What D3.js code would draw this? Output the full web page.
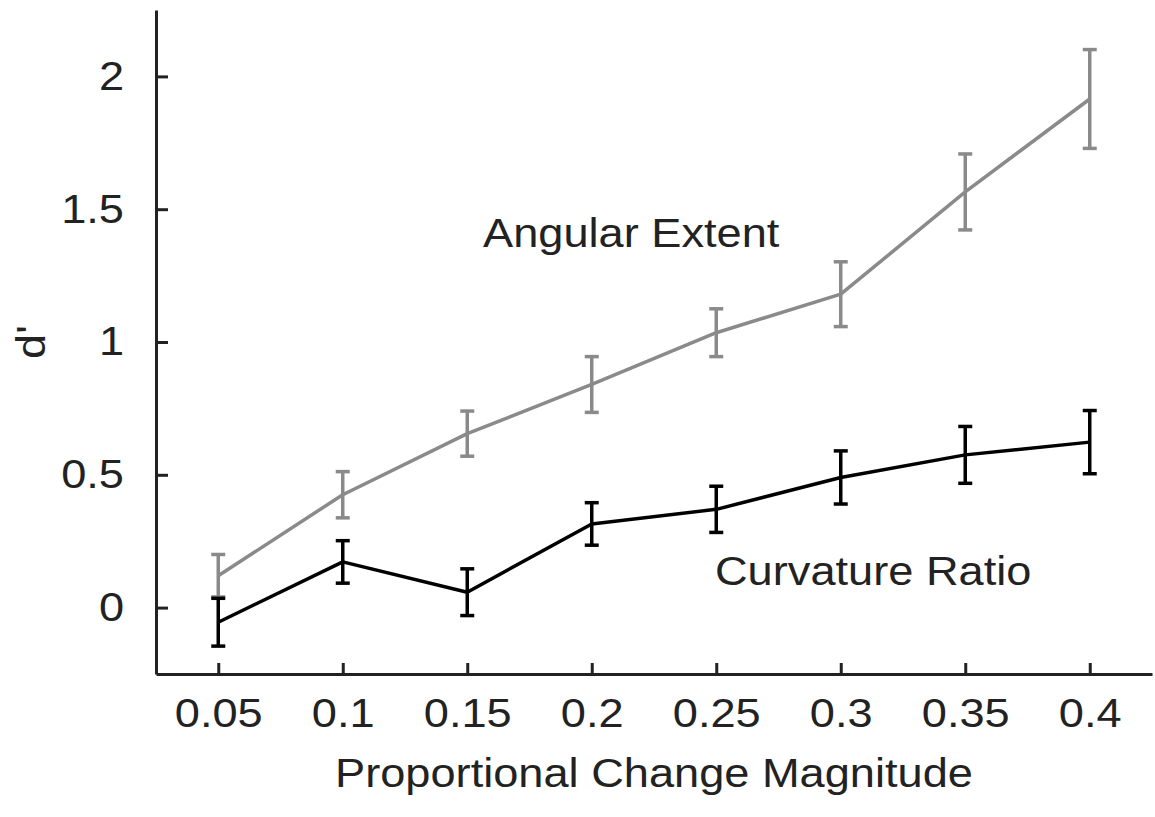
<!DOCTYPE html>
<html>
<head>
<meta charset="utf-8">
<script src="https://cdn.jsdelivr.net/npm/d3@7"></script>
<style>
  html, body { margin: 0; padding: 0; background: #fff; }
  svg { display: block; font-family: "Liberation Sans", Arial, Helvetica, sans-serif; }
</style>
</head>
<body>
<div id="chart"></div>
<script>
// x positions (proportional change magnitude)
const magnitudes = [0.05, 0.1, 0.15, 0.2, 0.25, 0.3, 0.35, 0.4];
const xTickLabels = ['0.05', '0.1', '0.15', '0.2', '0.25', '0.3', '0.35', '0.4'];
const yTicks = [0, 0.5, 1, 1.5, 2];

// d' means and error bar half-widths
const angularMean = [0.12, 0.425, 0.655, 0.84, 1.035, 1.18, 1.565, 1.915];
const angularErr = [0.08, 0.087, 0.085, 0.105, 0.09, 0.122, 0.143, 0.186];
const curvatureMean = [-0.055, 0.172, 0.058, 0.315, 0.37, 0.49, 0.575, 0.623];
const curvatureErr = [0.09, 0.08, 0.088, 0.08, 0.087, 0.1, 0.107, 0.119];

const width = 1155;
const height = 817;
const margin = { top: 10, right: 3, bottom: 143, left: 156 };

const svg = d3.select('#chart')
  .append('svg')
  .attr('width', width)
  .attr('height', height);

const x = d3.scaleLinear()
  .domain([0.025, 0.425])
  .range([margin.left, width - margin.right]);

const y = d3.scaleLinear()
  .domain([-0.25, 2.25])
  .range([height - margin.bottom, margin.top]);

const textColor = '#222';
const fontSize = 40;
const stretch = 1.13; // the source font is set a little wider than Liberation Sans

// axes, MATLAB style ticks pointing inwards
const xAxis = svg.append('g')
  .attr('transform', `translate(0,${y(-0.25)})`)
  .call(d3.axisBottom(x)
    .tickValues(magnitudes)
    .tickFormat((d, i) => xTickLabels[i])
    .tickSizeInner(-11)
    .tickSizeOuter(0)
    .tickPadding(25));

const yAxis = svg.append('g')
  .attr('transform', `translate(${x(0.025)},0)`)
  .call(d3.axisLeft(y)
    .tickValues(yTicks)
    .tickFormat(d3.format('~g'))
    .tickSizeInner(-12)
    .tickSizeOuter(0)
    .tickPadding(32 / stretch));

[xAxis, yAxis].forEach((ax) => {
  ax.select('.domain').attr('stroke', '#222').attr('stroke-width', 3);
  ax.selectAll('.tick line').attr('stroke', '#222').attr('stroke-width', 3);
  ax.selectAll('.tick text')
    .attr('fill', textColor)
    .attr('transform', `scale(${stretch},1)`)
    .style('font-size', fontSize + 'px');
});

// series
const series = [
  { name: 'Angular Extent', mean: angularMean, err: angularErr, color: '#8a8a8a' },
  { name: 'Curvature Ratio', mean: curvatureMean, err: curvatureErr, color: '#000' },
];

const line = d3.line()
  .x((d) => x(d.x))
  .y((d) => y(d.y));

const capHalf = 7;

series.forEach((s) => {
  const pts = magnitudes.map((m, i) => ({ x: m, y: s.mean[i], e: s.err[i] }));
  const g = svg.append('g');

  g.append('path')
    .datum(pts)
    .attr('fill', 'none')
    .attr('stroke', s.color)
    .attr('stroke-width', 3.5)
    .attr('stroke-linejoin', 'round')
    .attr('d', line);

  const bars = g.selectAll('.err')
    .data(pts)
    .join('g')
    .attr('class', 'err')
    .attr('stroke', s.color)
    .attr('stroke-width', 3.5);

  bars.append('line')
    .attr('x1', (d) => x(d.x)).attr('x2', (d) => x(d.x))
    .attr('y1', (d) => y(d.y - d.e)).attr('y2', (d) => y(d.y + d.e));
  bars.append('line')
    .attr('x1', (d) => x(d.x) - capHalf).attr('x2', (d) => x(d.x) + capHalf)
    .attr('y1', (d) => y(d.y + d.e)).attr('y2', (d) => y(d.y + d.e));
  bars.append('line')
    .attr('x1', (d) => x(d.x) - capHalf).attr('x2', (d) => x(d.x) + capHalf)
    .attr('y1', (d) => y(d.y - d.e)).attr('y2', (d) => y(d.y - d.e));
});

function label(tx, ty, str, anchor, rotate) {
  svg.append('text')
    .attr('transform', `translate(${tx},${ty})` + (rotate ? ` rotate(${rotate})` : '') + ` scale(${stretch},1)`)
    .attr('text-anchor', anchor)
    .attr('fill', textColor)
    .style('font-size', fontSize + 'px')
    .text(str);
}

// in-plot labels
label(483, 247, 'Angular Extent', 'start');
label(715, 585, 'Curvature Ratio', 'start');

// axis titles
label((x(0.025) + x(0.425)) / 2, 787, 'Proportional Change Magnitude', 'middle');
label(45, (y(-0.25) + y(2.25)) / 2, "d'", 'middle', -90);
</script>
</body>
</html>
